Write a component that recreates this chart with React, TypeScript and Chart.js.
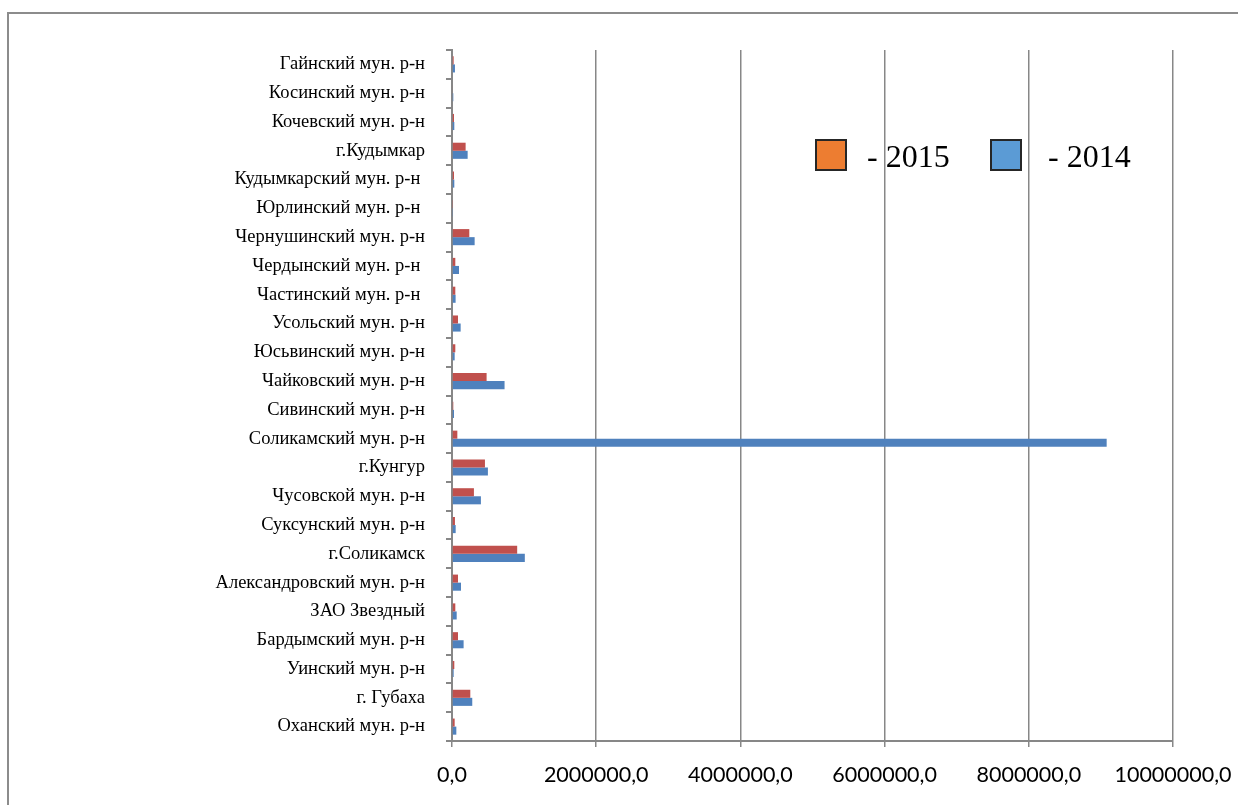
import React, { useEffect, useRef } from "react";
import { Chart, registerables } from "chart.js";

Chart.register(...registerables);

// Municipal districts, top to bottom
const categories = [
  "Гайнский мун. р-н",
  "Косинский мун. р-н",
  "Кочевский мун. р-н",
  "г.Кудымкар",
  "Кудымкарский мун. р-н ",
  "Юрлинский мун. р-н ",
  "Чернушинский мун. р-н",
  "Чердынский мун. р-н ",
  "Частинский мун. р-н ",
  "Усольский мун. р-н",
  "Юсьвинский мун. р-н",
  "Чайковский мун. р-н",
  "Сивинский мун. р-н",
  "Соликамский мун. р-н",
  "г.Кунгур",
  "Чусовской мун. р-н",
  "Суксунский мун. р-н",
  "г.Соликамск",
  "Александровский мун. р-н",
  "ЗАО Звездный",
  "Бардымский мун. р-н",
  "Уинский мун. р-н",
  "г. Губаха",
  "Оханский мун. р-н",
];

const values2015 = [
  23000, 10000, 28000, 189000, 28000, 14000, 240000, 46000, 46000, 83000,
  46000, 480000, 18000, 74000, 457000, 304000, 41000, 904000, 83000, 46000,
  83000, 32000, 254000, 37000,
];

const values2014 = [
  41000, 18000, 32000, 217000, 32000, 14000, 314000, 97000, 50000, 120000,
  37000, 729000, 28000, 9080000, 498000, 401000, 51000, 1010000, 125000,
  65000, 161000, 23000, 281000, 60000,
];

const xTicks = [0, 2000000, 4000000, 6000000, 8000000, 10000000];

const GRID = "#878787";

export default function App() {
  const canvasRef = useRef<HTMLCanvasElement | null>(null);

  useEffect(() => {
    const canvas = canvasRef.current;
    if (!canvas) return;
    const chart = new Chart(canvas, {
      type: "bar",
      data: {
        labels: categories,
        datasets: [
          {
            label: "2015",
            data: values2015,
            backgroundColor: "#C0504D",
            borderWidth: 0,
            categoryPercentage: 0.56,
            barPercentage: 1,
          },
          {
            label: "2014",
            data: values2014,
            backgroundColor: "#4F81BD",
            borderWidth: 0,
            categoryPercentage: 0.56,
            barPercentage: 1,
          },
        ],
      },
      options: {
        indexAxis: "y",
        animation: false,
        responsive: false,
        maintainAspectRatio: false,
        layout: { padding: { left: 0, top: 36, right: 96, bottom: 0 } },
        plugins: {
          legend: { display: false },
          tooltip: { enabled: false },
          title: { display: false },
        },
        scales: {
          x: {
            min: 0,
            max: 10000000,
            afterBuildTicks: (s: any) => {
              s.ticks = xTicks.map((v) => ({ value: v }));
            },
            afterFit: (s: any) => {
              s.height = 64;
            },
            grid: {
              color: GRID,
              lineWidth: 1.5,
              drawTicks: true,
              tickLength: 6,
            },
            border: { color: GRID, width: 2 },
            ticks: {
              color: "#000",
              padding: 15,
              maxRotation: 0,
              autoSkip: false,
              font: { family: "Lato", size: 21.5 },
              callback: (v: any) => `${Number(v)},0`,
            },
          },
          y: {
            afterFit: (s: any) => {
              s.width = 443;
            },
            grid: {
              drawOnChartArea: false,
              drawTicks: true,
              tickLength: 6,
              color: GRID,
              lineWidth: 2,
              offset: true,
            },
            border: { color: GRID, width: 2 },
            ticks: {
              color: "#000",
              padding: 21,
              autoSkip: false,
              font: { family: "Liberation Serif", size: 18.5 },
            },
          },
        },
      },
    });
    return () => chart.destroy();
  }, []);

  const legendText: React.CSSProperties = {
    fontFamily: "Liberation Serif, serif",
    fontSize: 32,
    color: "#000",
    lineHeight: "32px",
    position: "absolute",
    top: 126,
    whiteSpace: "pre",
  };
  const box: React.CSSProperties = {
    position: "absolute",
    top: 125,
    width: 28,
    height: 28,
    border: "2px solid #262626",
  };

  return (
    <div
      style={{
        position: "absolute",
        left: 7,
        top: 12,
        width: 1260,
        height: 800,
        borderLeft: "2px solid #8c8c8c",
        borderTop: "2px solid #8c8c8c",
        background: "#fff",
        overflow: "hidden",
      }}
    >
      <canvas
        ref={canvasRef}
        width={1260}
        height={791}
        style={{ display: "block", width: 1260, height: 791 }}
      />
      <div style={{ ...box, left: 806, background: "#ED7D31" }} />
      <div style={{ ...legendText, left: 858 }}>- 2015</div>
      <div style={{ ...box, left: 981, background: "#5B9BD5" }} />
      <div style={{ ...legendText, left: 1039 }}>- 2014</div>
    </div>
  );
}
